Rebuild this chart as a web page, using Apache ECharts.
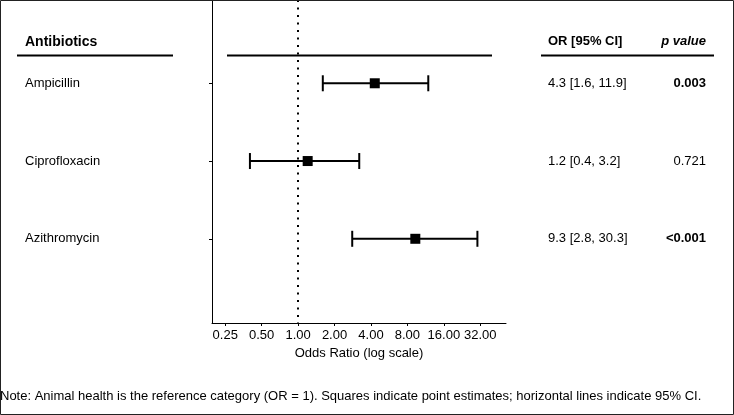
<!DOCTYPE html>
<html>
<head>
<meta charset="utf-8">
<script src="https://cdn.jsdelivr.net/npm/echarts@6/dist/echarts.min.js"></script>
<style>
  html, body { margin: 0; padding: 0; background: #fff; }
  #chart { width: 734px; height: 415px; }
</style>
</head>
<body>
<div id="chart"></div>
<script>
const antibiotics = ['Ampicillin', 'Ciprofloxacin', 'Azithromycin'];
const oddsRatio = [4.3, 1.2, 9.3];
const ciLow = [1.6, 0.4, 2.8];
const ciHigh = [11.9, 3.2, 30.3];
const pValues = ['0.003', '0.721', '<0.001'];
const tickValues = [0.25, 0.5, 1, 2, 4, 8, 16, 32];

const font = '"Liberation Sans", Arial, sans-serif';
const rows = antibiotics.map((name, i) => i + 1);

// odds ratios are plotted on log2 scale
let whiskers = [];
let points = [];
for (let i = 0; i < antibiotics.length; i++) {
  whiskers.push([Math.log2(ciLow[i]), Math.log2(ciHigh[i]), i + 1]);
  points.push([Math.log2(oddsRatio[i]), i + 1]);
}

let orText = antibiotics.map((name, i) =>
  oddsRatio[i].toFixed(1) + ' [' + ciLow[i].toFixed(1) + ', ' + ciHigh[i].toFixed(1) + ']');

function isSignificant(p) {
  return parseFloat(p.replace('<', '')) < 0.05;
}

let chart = echarts.init(document.getElementById('chart'));

let yBase = {
  type: 'value',
  inverse: true,
  min: -0.071,
  max: 4.083,
  splitLine: { show: false }
};

let option = {
  animation: false,
  textStyle: { fontFamily: font },
  grid: { left: 212, right: 228, top: 0, bottom: 92 },
  xAxis: {
    type: 'value',
    position: 'bottom',
    min: -2.363,
    max: 5.706,
    name: 'Odds Ratio (log scale)',
    nameLocation: 'middle',
    nameGap: 21,
    nameTextStyle: { color: '#000', fontSize: 13, fontFamily: font },
    splitLine: { show: false },
    axisLine: { onZero: false, lineStyle: { color: '#000', width: 1 } },
    axisTick: {
      length: 3,
      customValues: tickValues.map(v => Math.log2(v)),
      lineStyle: { color: '#000' }
    },
    axisLabel: {
      margin: 6,
      color: '#000',
      fontSize: 13,
      customValues: tickValues.map(v => Math.log2(v)),
      formatter: v => Math.pow(2, v).toFixed(2)
    }
  },
  yAxis: [
    Object.assign({}, yBase, {
      position: 'left',
      axisLine: { show: true, onZero: false, lineStyle: { color: '#000', width: 1 } },
      axisTick: { show: true, length: 3, customValues: rows, lineStyle: { color: '#000' } },
      axisLabel: {
        customValues: rows,
        align: 'left',
        margin: 187,
        color: '#000',
        fontSize: 13,
        formatter: v => antibiotics[v - 1]
      }
    }),
    Object.assign({}, yBase, {
      position: 'right',
      axisLine: { show: false, onZero: false },
      axisTick: { show: false },
      axisLabel: {
        customValues: rows,
        align: 'left',
        margin: 42,
        color: '#000',
        fontSize: 13,
        formatter: v => orText[v - 1]
      }
    }),
    Object.assign({}, yBase, {
      position: 'right',
      axisLine: { show: false, onZero: false },
      axisTick: { show: false },
      axisLabel: {
        customValues: rows,
        align: 'right',
        margin: 200,
        color: '#000',
        fontSize: 13,
        formatter: v => {
          let p = pValues[v - 1];
          return isSignificant(p) ? '{b|' + p + '}' : p;
        },
        rich: { b: { fontWeight: 'bold', fontSize: 13, color: '#000', fontFamily: font } }
      }
    })
  ],
  graphic: [
    { type: 'rect', shape: { x: 0.5, y: 0.5, width: 733, height: 414 }, style: { fill: 'none', stroke: '#222', lineWidth: 1 }, z: 100 },
    { type: 'text', left: 25, top: 35, style: { text: 'Antibiotics', font: 'bold 14px ' + font, fill: '#000' } },
    { type: 'text', left: 548, top: 35, style: { text: 'OR [95% CI]', font: 'bold 13px ' + font, fill: '#000' } },
    { type: 'text', right: 28, top: 35, style: { text: 'p value', font: 'italic bold 13px ' + font, fill: '#000' } },
    { type: 'line', shape: { x1: 17, y1: 55.5, x2: 173, y2: 55.5 }, style: { stroke: '#000', lineWidth: 2 } },
    { type: 'line', shape: { x1: 227, y1: 55.5, x2: 492, y2: 55.5 }, style: { stroke: '#000', lineWidth: 2 } },
    { type: 'line', shape: { x1: 541, y1: 55.5, x2: 714, y2: 55.5 }, style: { stroke: '#000', lineWidth: 2 } },
    {
      type: 'text', left: 0, top: 390,
      style: {
        text: 'Note: Animal health is the reference category (OR = 1). Squares indicate point estimates; horizontal lines indicate 95% CI.',
        font: '13px ' + font, fill: '#000'
      }
    }
  ],
  series: [
    {
      type: 'custom',
      yAxisIndex: 0,
      data: whiskers,
      renderItem: function (params, api) {
        let a = api.coord([api.value(0), api.value(2)]);
        let b = api.coord([api.value(1), api.value(2)]);
        let h = 8;
        let style = { stroke: '#000', lineWidth: 2 };
        return {
          type: 'group',
          children: [
            { type: 'line', shape: { x1: a[0], y1: a[1], x2: b[0], y2: b[1] }, style: style },
            { type: 'line', shape: { x1: a[0], y1: a[1] - h, x2: a[0], y2: a[1] + h }, style: style },
            { type: 'line', shape: { x1: b[0], y1: b[1] - h, x2: b[0], y2: b[1] + h }, style: style }
          ]
        };
      }
    },
    {
      type: 'scatter',
      yAxisIndex: 0,
      data: points,
      symbol: 'rect',
      symbolSize: 10,
      itemStyle: { color: '#000', opacity: 1 },
      z: 3,
      markLine: {
        silent: true,
        symbol: 'none',
        label: { show: false },
        lineStyle: { color: '#000', width: 2, type: [2, 5.5] },
        data: [{ xAxis: 0 }]
      }
    }
  ]
};

chart.setOption(option);
</script>
</body>
</html>
